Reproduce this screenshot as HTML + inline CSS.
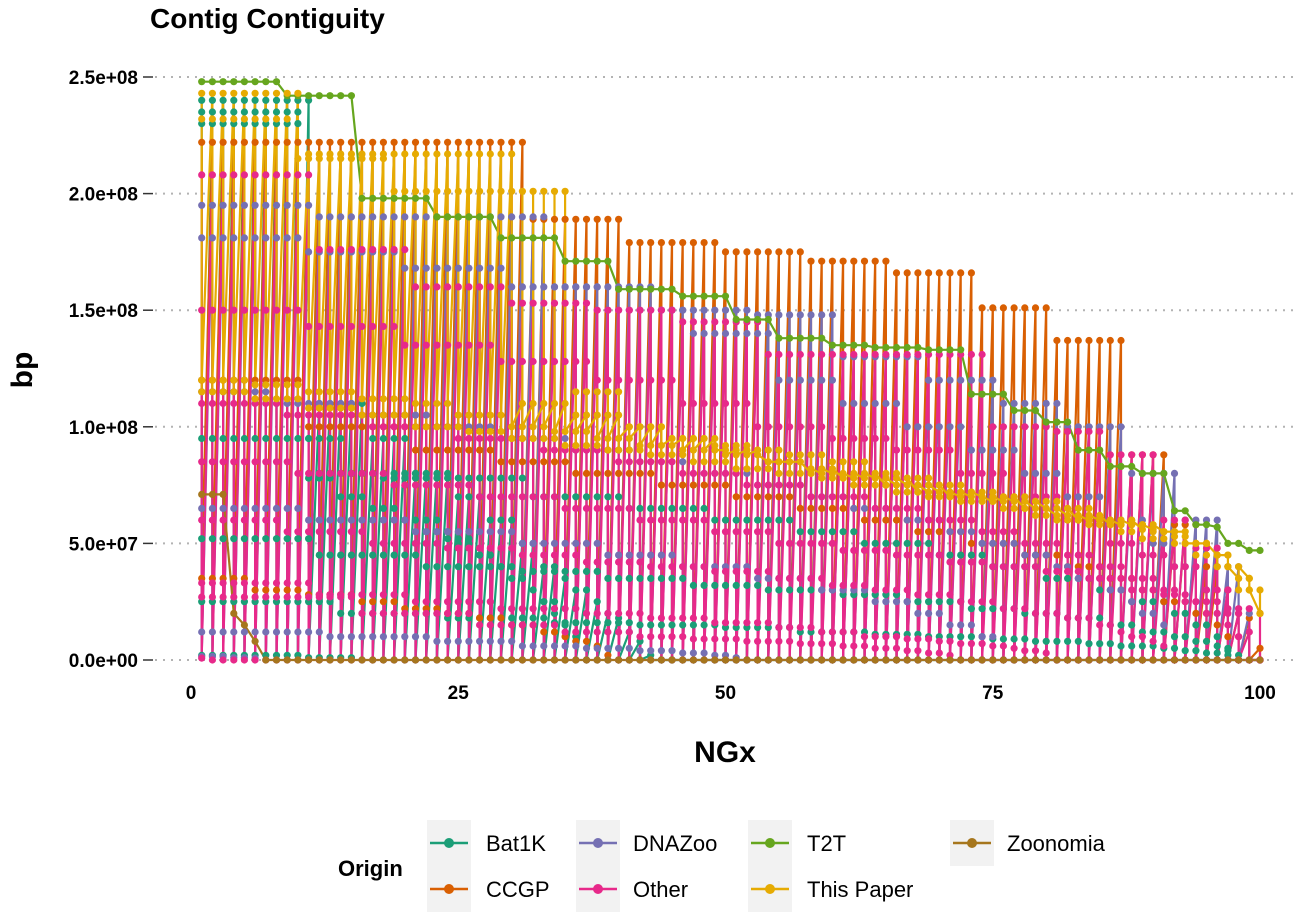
<!DOCTYPE html>
<html><head><meta charset="utf-8"><style>
body{margin:0;background:#fff;}
svg{display:block;font-family:"Liberation Sans",Arial,sans-serif;}
</style></head><body>
<svg id="chart" width="1309" height="912">
<text x="150" y="28" font-size="28" font-weight="bold">Contig Contiguity</text>
<g id="grid"></g><g id="lines"></g><g id="points"></g><g id="axes"></g>
<text x="725" y="762" font-size="30" font-weight="bold" text-anchor="middle">NGx</text>
<text transform="translate(32,370) rotate(-90)" font-size="30" font-weight="bold" text-anchor="middle">bp</text>
<g id="legend">
<text x="338" y="876" font-size="22" font-weight="bold">Origin</text>
</g>
</svg>
<script>
const origins=["Bat1K","CCGP","DNAZoo","Other","T2T","This Paper","Zoonomia"];
const colors=["#1b9e77","#d95f02","#7570b3","#e7298a","#66a61e","#e6ab02","#a6761d"];
// assemblies: contig lengths (Mb) and genome sizes (Mb)
const bat1kContigs=[[240,110,95,80,70,60,50,40,35,30,25,20,18,15,12,10,8,6,5,4,3,2,1],[235,95,80,78,60,52,45,40,35,30,25,20,15,10,5],[230,78,70,65,60,55,50,45,40,35,30,25,20,15,10,5],[95,80,78,70,65,60,55,50,45,40,35,30,25,20,15,10,5],[52,45,40,38,35,32,30,28,25,22,20,18,15,12,10,8,6,4,2],[25,20,18,16,15,14,12,11,10,9,8,7,6,5,4,3,2,1],[2,1]];
const bat1kSizes=[2180,2300,2300,800,450,190,20];
const ccgpContigs=[[222,222,222,189,179,175,171,166,151,137,88,58,40,30,20,18,10,5],[120,100,90,85,80,75,70,65,60,55,50,45,40,35,30,25,20,15,10,5],[35,30,28,25,22,20,18,15,12,10,8,6,4,2]];
const ccgpSizes=[2103,1100,600];
const dnazooContigs=[[195,190,190,160,150,148,130,120,110,100,80,60,40,20],[181,175,168,160,150,140,120,110,100,90,80,70,60,50,40,30,20],[115,110,105,100,95,90,85,80,75,70,65,60,55,50,45,40,35,30,25,20,15,10],[65,60,55,50,45,40,35,30,25,20,15,10,5],[12,10,8,6,5,4,3,2,1],[1.5,1,0.8]];
const dnazooSizes=[1700,1800,1500,600,100,50];
const otherContigs=[[208,176,160,153,150,145,131,131,131,100,98,88,60,48,30,20,12,5],[150,143,135,128,120,110,100,95,90,80,70,60,50,45,40,30,20,10],[110,105,100,95,90,85,80,75,70,65,60,55,50,45,40,35,30,25,20,15,10],[85,80,75,70,65,60,55,50,47,45,42,40,38,35,30,28,25,22,20],[60,55,50,48,45,42,40,38,35,32,30,28,25,22,20,18,15,12,10,8,6,4],[33,28,25,22,20,18,16,14,12,10,9,8,7,6,5,4,3,2],[27,20,15,12,10,9,8,7,6,5,4,3,2,1],[2,1.5,1,0.8,0.5]];
const otherSizes=[1850,1500,1280,900,700,300,180,500];
const t2tContigs=[[248,242,198,190,181,171,159,146,138,134,135,133,114,107,102,90,83,80,58,64,47,50,156,57]];
const t2tSizes=[3083];
const thisPaperContigs=[[243,217,217,110,105,100,95,90,85,80,78,75,72,70,68,65,62,60,58,56,55,50,45,35,20],[232,215,201,201,115,100,95,92,90,88,85,80,78,75,72,70,68,65,60,58,55,53,50,45,35,20],[115,112,108,105,100,98,95,92,90,88,85,82,80,78,75,72,70,68,65,62,60,58,55,52,50,45,40,30,20],[120,118,115,112,110,105,100,98,95,92,90,88,85,82,80,78,75,72,70,68,65,62,60,58,55,50,45,40,30]];
const thisPaperSizes=[2211,2398,2150,2318];
const zoonomiaContigs=[[71,20,15,10,8,5,4,3,2,1]];
const zoonomiaSizes=[2000];
const groupContigs=[bat1kContigs,ccgpContigs,dnazooContigs,otherContigs,t2tContigs,thisPaperContigs,zoonomiaContigs];
const groupSizes=[bat1kSizes,ccgpSizes,dnazooSizes,otherSizes,t2tSizes,thisPaperSizes,zoonomiaSizes];
const yTicks=[0,50,100,150,200,250];
const yTickLabels=["0.0e+00","5.0e+07","1.0e+08","1.5e+08","2.0e+08","2.5e+08"];
const xTicks=[0,25,50,75,100];

const NS="http://www.w3.org/2000/svg";
const X=v=>191+v*10.69;
const Y=v=>660-v*2.332;
function mk(t,a,p){const e=document.createElementNS(NS,t);for(const k in a)e.setAttribute(k,a[k]);p.appendChild(e);return e;}
function ng(contigs,G){const s=contigs.slice().sort((a,b)=>b-a);const out=[];for(let x=1;x<=100;x++){const t=G*x/100;let c=0,v=0;for(const L of s){c+=L;if(c>=t-1e-9){v=L;break;}}out.push(v);}return out;}
const grid=document.getElementById('grid'),axes=document.getElementById('axes');
yTicks.forEach((t,i)=>{
 const gl=mk('line',{x1:155,x2:1295,y1:Y(t),y2:Y(t),stroke:'#b3b3b3','stroke-width':2,'stroke-dasharray':'2,6'},grid);
 
 
 const tk=mk('line',{x1:143,x2:153,y1:Y(t),y2:Y(t),stroke:'#333','stroke-width':1.5},axes);
 
 
 const lb=mk('text',{x:138,y:Y(t)+7,'font-size':19,'font-weight':'bold','text-anchor':'end'},axes);lb.textContent=yTickLabels[i];
 
 
});
xTicks.forEach(t=>{
 const lb=mk('text',{x:X(t),y:699,'font-size':19,'font-weight':'bold','text-anchor':'middle'},axes);lb.textContent=t;
 
 
});
const LG=document.getElementById('lines'),PG=document.getElementById('points');
groupContigs.forEach((asms,gi)=>{
 const series=asms.map((c,i)=>ng(c,groupSizes[gi][i]));
 const pts=[];
 for(let x=1;x<=100;x++)series.forEach(s=>pts.push([x,s[x-1]]));
 const pl=mk('polyline',{points:pts.map(p=>X(p[0]).toFixed(1)+','+Y(p[1]).toFixed(1)).join(' '),fill:'none',stroke:colors[gi],'stroke-width':2.2,'stroke-linejoin':'round'},LG);
 
 
 const g=mk('g',{fill:colors[gi]},PG);
 
 
 pts.forEach(p=>{const c=mk('circle',{cx:X(p[0]).toFixed(1),cy:Y(p[1]).toFixed(1),r:3.6},g);
  
  });
});
// legend
const leg=document.getElementById('legend');
const legPos=[[427,843],[427,889],[576,843],[576,889],[748,843],[748,889],[950,843]];
const legTextX=[486,486,633,633,807,807,1007];
origins.forEach((o,i)=>{
 const [kx,ky]=legPos[i];
 const bg=mk('rect',{x:kx,y:ky-23,width:44,height:46,fill:'#f2f2f2'},leg);
 
 
 const ln=mk('line',{x1:kx+3,x2:kx+41,y1:ky,y2:ky,stroke:colors[i],'stroke-width':2.5},leg);
 
 
 const c=mk('circle',{cx:kx+22,cy:ky,r:5,fill:colors[i]},leg);
 
 
 const t=mk('text',{x:legTextX[i],y:ky+8,'font-size':22},leg);t.textContent=o;
 
 
});
</script>
</body></html>
